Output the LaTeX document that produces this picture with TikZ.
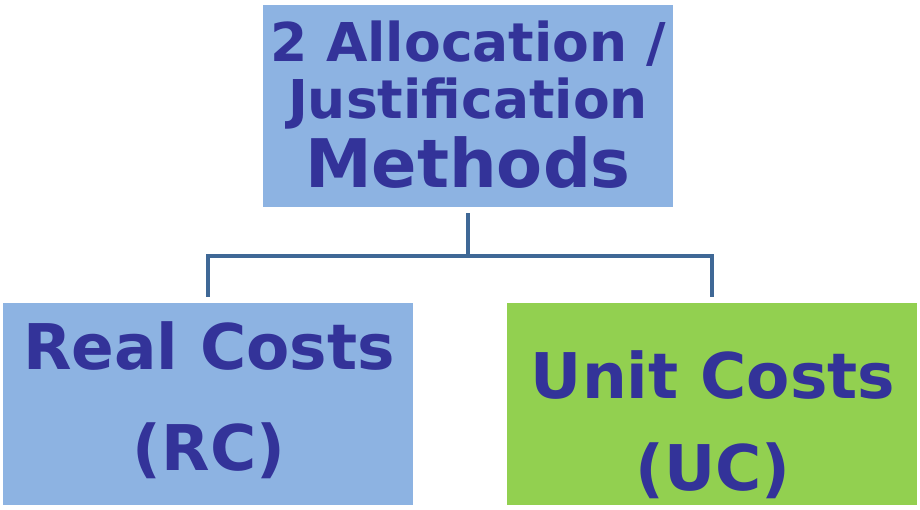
\documentclass[tikz,border=0pt]{standalone}
\usepackage{fontspec}
\setmainfont{DejaVu Sans}
\usetikzlibrary{positioning}

\definecolor{boxblue}{HTML}{8DB3E2}
\definecolor{boxgreen}{HTML}{92D050}
\definecolor{textblue}{HTML}{333399}
\definecolor{linkblue}{HTML}{3F6896}

\begin{document}
\begin{tikzpicture}[
            x=1pt, y=-1pt,
            box/.style={ minimum width=410pt, minimum height=202pt, inner sep=0pt },
            txt/.style={ text=textblue, align=center, inner sep=0pt, anchor=base },
            link/.style={ draw=linkblue, line width=4.5pt }
        ]

        \useasboundingbox (0,0) rectangle (920,509);

        \node[box, fill=boxblue] (methods) at (468,106) {};
        \node[box, fill=boxblue] (rc) at (208,404) {};
        \node[box, fill=boxgreen] (uc) at (712,404) {};

        % base anchor sits on the last line
        \node[txt, font={\bfseries\lineskiplimit=-100pt\relax\fontsize{53.5}{57}\selectfont}] (methodsText) at (468,187)
            {2 Allocation /\\Justification\\[12pt]{\fontsize{67}{69}\selectfont Methods}};
        \node[txt, font=\bfseries\fontsize{63}{101}\selectfont] (rcText) at (209,470) {Real Costs\\(RC)};
        \node[txt, font=\bfseries\fontsize{63}{92}\selectfont] (ucText) at (713,490) {Unit Costs\\(UC)};

        \coordinate (bus) at (468,256);
        \draw[link, shorten <=6pt] (methods.south) -- (bus);
        \draw[link, shorten <=6pt, shorten >=6pt] (rc.north) |- (bus) -| (uc.north);
    \end{tikzpicture}
\end{document}
